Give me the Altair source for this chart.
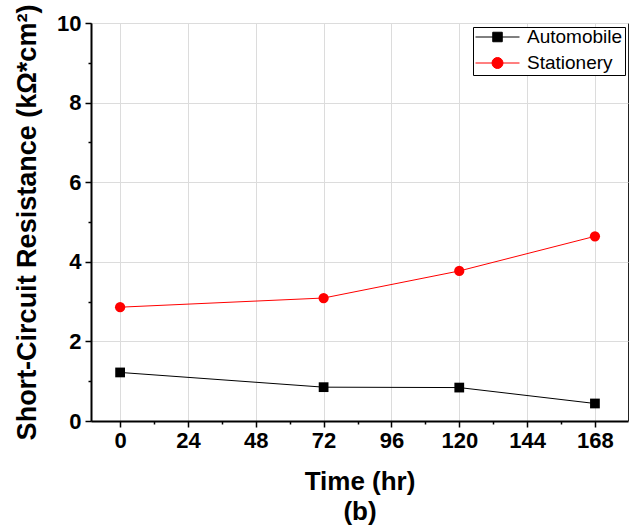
import altair as alt
import pandas as pd

# Short-circuit resistance over time for two cell types
hours = [0, 72, 120, 168]
automobile = [1.22, 0.85, 0.84, 0.44]
stationery = [2.86, 3.09, 3.77, 4.64]
series_names = ["Automobile", "Stationery"]
series_colors = ["#000000", "#ff0000"]

x_ticks = list(range(0, 169, 12))
y_ticks = list(range(0, 11))

df = pd.DataFrame({
    "hour": hours * 2,
    "value": automobile + stationery,
    "series": [series_names[0]] * len(hours) + [series_names[1]] * len(hours),
})

FONT = "Liberation Sans"

# legend symbols: a short line with the series marker on it
legend_shape = (
    "datum.value === 'Automobile' ? "
    "'M-1,0H1M-0.216,-0.216H0.216V0.216H-0.216Z' : "
    "'M-1,0H1M0.25,0A0.25,0.25,0,1,1,-0.25,0A0.25,0.25,0,1,1,0.25,0Z'"
)
legend_color = "datum.value === 'Automobile' ? '#000000' : '#ff0000'"

x_enc = alt.X(
    "hour:Q",
    scale=alt.Scale(domain=[-10.3, 179.7], nice=False, zero=False),
    axis=alt.Axis(
        values=x_ticks,
        title=["Time (hr)", "(b)"],
        labelExpr="datum.value % 24 === 0 ? datum.label : ''",
        tickSize={"condition": {"test": "datum.value % 24 !== 0", "value": 3}, "value": 6},
        gridOpacity={"condition": {"test": "datum.value % 24 !== 0", "value": 0}, "value": 1},
        titleLineHeight=30,
        titlePadding=17,
        labelPadding=3,
        titleFontSize=26,
    ),
)
y_enc = alt.Y(
    "value:Q",
    scale=alt.Scale(domain=[0, 10], nice=False),
    axis=alt.Axis(
        values=y_ticks,
        title="Short-Circuit Resistance (kΩ*cm²)",
        labelExpr="datum.value % 2 === 0 ? datum.label : ''",
        tickSize={"condition": {"test": "datum.value % 2 !== 0", "value": 3}, "value": 6},
        gridOpacity={"condition": {"test": "datum.value % 2 !== 0", "value": 0}, "value": 1},
        titlePadding=15,
        labelPadding=4,
        titleFontSize=27,
    ),
)

color_enc = alt.Color(
    "series:N",
    scale=alt.Scale(domain=series_names, range=series_colors),
    legend=alt.Legend(
        title=None,
        orient="none",
        legendX=382,
        legendY=4,
        padding=2,
        rowPadding=7,
        clipHeight=16,
        symbolSize=1936,
        symbolType=alt.ExprRef(legend_shape),
        symbolFillColor=alt.ExprRef(legend_color),
        symbolStrokeColor=alt.ExprRef(legend_color),
        symbolStrokeWidth=1,
        symbolOpacity=1,
        labelOffset=7,
        labelFont=FONT,
        labelFontSize=19,
        labelColor="#000000",
        strokeColor="#000000",
        fillColor="#ffffff",
    ),
)

base = alt.Chart(df)

lines = base.mark_line(strokeWidth=1).encode(x=x_enc, y=y_enc, color=color_enc)

auto_points = (
    base.transform_filter(alt.datum.series == series_names[0])
    .mark_point(filled=True, opacity=1, shape="square", size=95, strokeWidth=1)
    .encode(x=x_enc, y=y_enc, color=color_enc)
)
stat_points = (
    base.transform_filter(alt.datum.series == series_names[1])
    .mark_point(filled=True, opacity=1, shape="circle", size=105, strokeWidth=1)
    .encode(x=x_enc, y=y_enc, color=color_enc)
)

chart = (
    alt.layer(lines, auto_points, stat_points)
    .properties(
        width=537,
        height=398,
        padding={"left": 91, "top": 23, "right": 9, "bottom": 108},
        autosize=alt.AutoSizeParams(type="none"),
        background="#ffffff",
    )
    .configure_view(stroke="#222222", strokeWidth=1)
    .configure_axis(
        domainColor="#000000",
        domainWidth=2,
        tickColor="#000000",
        tickWidth=1.5,
        gridColor="#dcdcdc",
        gridWidth=1,
        labelFont=FONT,
        labelFontSize=22,
        labelFontWeight="bold",
        labelColor="#000000",
        titleFont=FONT,
        titleFontWeight="bold",
        titleColor="#000000",
    )
)

chart.save("out.html", embed_options={"renderer": "svg", "actions": False})
